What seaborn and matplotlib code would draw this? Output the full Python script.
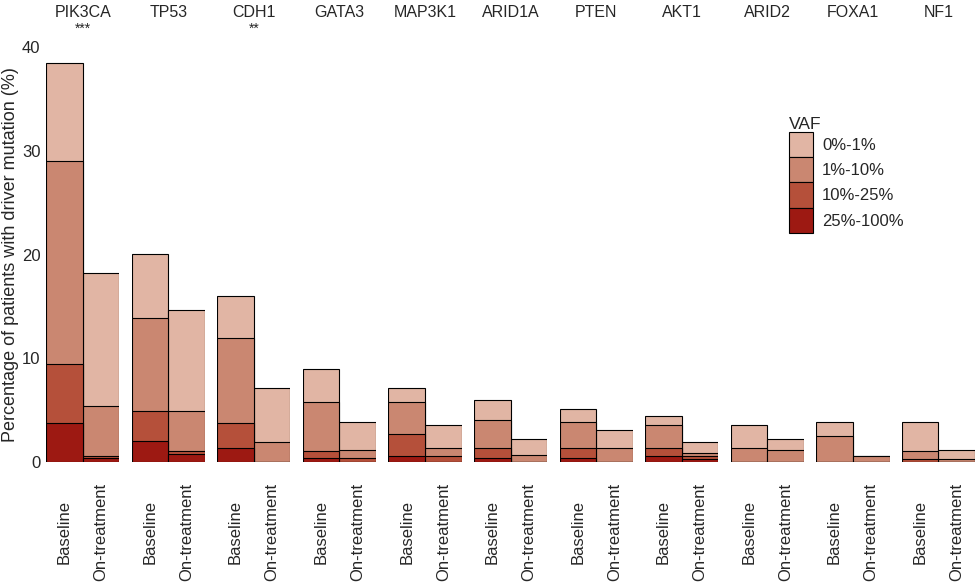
import matplotlib
matplotlib.use("Agg")
import matplotlib.pyplot as plt
from matplotlib.patches import Patch
import seaborn as sns
import pandas as pd

genes = ['PIK3CA', 'TP53', 'CDH1', 'GATA3', 'MAP3K1', 'ARID1A',
         'PTEN', 'AKT1', 'ARID2', 'FOXA1', 'NF1']
stars = {'PIK3CA': '***', 'CDH1': '**'}
timepoints = ['Baseline', 'On-treatment']
vaf_levels = ['0%-1%', '1%-10%', '10%-25%', '25%-100%']
vaf_colors = ['#e1b5a4', '#ca8771', '#b5503a', '#9d1912']

# segment sizes (% of patients) per VAF class, one value per gene
base_25_100 = [3.8, 2.0, 1.4, 0.35, 0.6, 0.35, 0.35, 0.55, 0.0, 0.0, 0.0]
base_10_25 = [5.7, 2.9, 2.4, 0.75, 2.15, 1.05, 1.05, 0.85, 0.0, 0.0, 0.3]
base_1_10 = [19.5, 9.0, 8.2, 4.65, 3.0, 2.7, 2.45, 2.2, 1.4, 2.5, 0.8]
base_0_1 = [9.5, 6.2, 4.0, 3.25, 1.35, 1.9, 1.3, 0.8, 2.2, 1.35, 2.75]

on_25_100 = [0.35, 0.8, 0.0, 0.0, 0.0, 0.0, 0.0, 0.3, 0.0, 0.0, 0.0]
on_10_25 = [0.25, 0.3, 0.0, 0.35, 0.6, 0.0, 0.0, 0.25, 0.0, 0.0, 0.0]
on_1_10 = [4.8, 3.8, 1.95, 0.8, 0.8, 0.65, 1.4, 0.3, 1.15, 0.6, 0.3]
on_0_1 = [12.8, 9.8, 5.15, 2.7, 2.15, 1.55, 1.65, 1.1, 1.05, 0.0, 0.85]

# long table, then cumulative heights from the bottom class upwards
rows = []
for i, gene in enumerate(genes):
    rows.append({'gene': gene, 'timepoint': 'Baseline',
                 '25%-100%': base_25_100[i], '10%-25%': base_10_25[i],
                 '1%-10%': base_1_10[i], '0%-1%': base_0_1[i]})
    rows.append({'gene': gene, 'timepoint': 'On-treatment',
                 '25%-100%': on_25_100[i], '10%-25%': on_10_25[i],
                 '1%-10%': on_1_10[i], '0%-1%': on_0_1[i]})
df = pd.DataFrame(rows)
stack_order = vaf_levels[::-1]
df[stack_order] = df[stack_order].cumsum(axis=1)

sns.set_style('white')
plt.rcParams['font.family'] = ['Liberation Sans', 'DejaVu Sans']

fig, axes = plt.subplots(1, len(genes), sharey=True, figsize=(9.8, 5.82), dpi=100)
fig.subplots_adjust(left=0.047, right=0.995, bottom=0.206, top=0.919, wspace=0.168)

for ax, gene in zip(axes, genes):
    sub = df[df['gene'] == gene]
    # draw tallest cumulative bar first so lower classes sit on top
    for level, color in zip(vaf_levels, vaf_colors):
        sns.barplot(data=sub, x='timepoint', y=level, order=timepoints,
                    color=color, saturation=1, width=1, errorbar=None,
                    edgecolor='black', linewidth=0.8, ax=ax)
    ax.set_xlim(-0.5, 1.5)
    ax.set_ylim(0, 40)
    ax.set_xlabel('')
    ax.set_ylabel('')
    ax.set_xticks(range(len(timepoints)))
    ax.set_xticklabels(timepoints, rotation=90, va='center', fontsize=12)
    ax.tick_params(axis='x', length=0, pad=50)
    ax.tick_params(axis='y', length=0, labelsize=12, pad=4)
    sns.despine(ax=ax, left=True, bottom=True)
    ax.text(0.5, 1.084, gene, transform=ax.transAxes, ha='center', va='center', fontsize=11.5)
    if gene in stars:
        ax.text(0.5, 1.045, stars[gene], transform=ax.transAxes, ha='center', va='center', fontsize=10)

axes[0].set_yticks([0, 10, 20, 30, 40])
axes[0].set_ylabel('Percentage of patients with driver mutation (%)', fontsize=13, labelpad=2)

handles = [Patch(facecolor=c, edgecolor='black', linewidth=0.8, label=l)
           for l, c in zip(vaf_levels, vaf_colors)]
fig.legend(handles=handles, title='VAF', loc='upper left',
           bbox_to_anchor=(789 / 980, 1 - 117 / 582), frameon=False,
           fontsize=12, title_fontsize=12.5, alignment='left',
           handlelength=1.44, handleheight=1.95, labelspacing=0,
           handletextpad=0.55, borderpad=0, borderaxespad=0)

fig.savefig('out.png', dpi=100)
